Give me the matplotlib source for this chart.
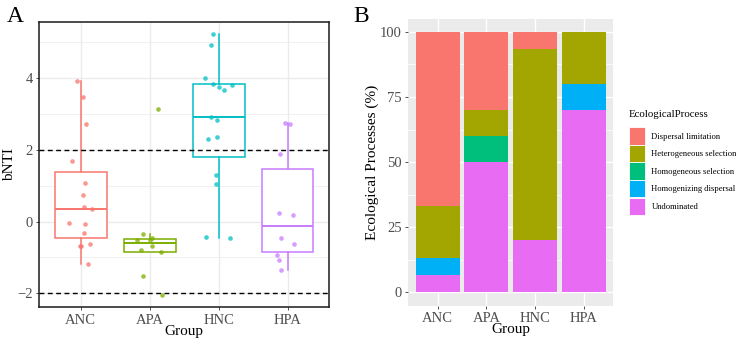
import numpy as np
import matplotlib.pyplot as plt
from matplotlib.patches import Patch

plt.rcParams['font.family'] = ['Liberation Serif', 'DejaVu Serif']

# ---- panel A data: bNTI per group ----
groups = ['ANC', 'APA', 'HNC', 'HPA']
anc_bnti = [3.93, 3.49, 2.73, 1.70, 1.09, 0.73, 0.41, 0.36, -0.05, -0.07, -0.33, -0.67, -0.67, -0.61, -1.17]
apa_bnti = [3.13, -0.35, -0.52, -0.50, -0.47, -0.79, -0.69, -0.85, -1.52, -2.05]
hnc_bnti = [5.25, 4.92, 4.01, 3.85, 3.77, 3.68, 3.82, 2.92, 2.85, 2.31, 2.35, 1.29, 1.04, -0.42, -0.46]
hpa_bnti = [2.75, 2.73, 1.88, 0.25, 0.18, -0.45, -0.63, -0.92, -1.08, -1.34]
# horizontal jitter of each point as drawn (category units)
anc_jit = [-0.06, 0.04, 0.08, -0.12, 0.06, 0.04, 0.05, 0.17, -0.17, 0.06, 0.05, -0.01, 0.01, 0.13, 0.11]
apa_jit = [0.12, -0.10, -0.18, 0.0, 0.03, -0.13, 0.03, 0.16, -0.10, 0.18]
hnc_jit = [-0.08, -0.11, -0.20, -0.08, 0.0, 0.08, 0.19, -0.11, -0.03, -0.16, -0.03, -0.04, -0.04, -0.18, 0.16]
hpa_jit = [-0.04, 0.03, -0.11, -0.12, 0.08, -0.10, 0.09, -0.15, -0.12, -0.09]
box_colors = ['#F8766D', '#7CAE00', '#00BFC4', '#C77CFF']

# ---- panel B data: share of ecological processes (%) ----
processes = ['Dispersal limitation', 'Heterogeneous selection', 'Homogeneous selection',
             'Homogenizing dispersal', 'Undominated']
dispersal_limitation = [66.67, 30, 6.67, 0]
heterogeneous_selection = [20, 10, 73.33, 20]
homogeneous_selection = [0, 10, 0, 0]
homogenizing_dispersal = [6.67, 0, 0, 10]
undominated = [6.67, 50, 20, 70]
proc_colors = ['#F8766D', '#A3A500', '#00BF7D', '#00B0F6', '#E76BF3']

tick_gray = '#4D4D4D'
W, H = 742, 345
fig = plt.figure(figsize=(W / 100, H / 100), dpi=100)

# ================= panel A =================
axA = fig.add_axes([39.3 / W, 1 - 307.3 / H, (329 - 39.3) / W, (307.3 - 21.7) / H])
pos = np.arange(1, 5)
for y in [-1, 1, 3, 5]:
    axA.axhline(y, color='#EBEBEB', lw=0.5, zorder=0)
for y in [-2, 0, 2, 4]:
    axA.axhline(y, color='#EBEBEB', lw=1.0, zorder=0)
for x in pos:
    axA.axvline(x, color='#EBEBEB', lw=1.0, zorder=0)

data = [anc_bnti, apa_bnti, hnc_bnti, hpa_bnti]
jits = [anc_jit, apa_jit, hnc_jit, hpa_jit]
for i, (vals, c) in enumerate(zip(data, box_colors)):
    axA.boxplot([vals], positions=[pos[i]], widths=0.75, whis=1.5, showfliers=False,
                showcaps=False, patch_artist=True,
                boxprops=dict(facecolor='white', edgecolor=c, lw=1.1),
                medianprops=dict(color=c, lw=1.4),
                whiskerprops=dict(color=c, lw=1.1), zorder=2)
for i, (vals, jit, c) in enumerate(zip(data, jits, box_colors)):
    axA.scatter(pos[i] + np.array(jit), vals, s=11, color=c, alpha=0.75, lw=0, zorder=4)

axA.axhline(2, color='black', ls='--', lw=1.0, dashes=(3.5, 2.5), zorder=3)
axA.axhline(-2, color='black', ls='--', lw=1.0, dashes=(3.5, 2.5), zorder=3)

axA.set_xlim(0.4, 4.6)
axA.set_ylim(-2.39, 5.58)
axA.set_xticks(pos)
axA.set_xticklabels(groups)
axA.set_yticks([-2, 0, 2, 4])
axA.set_yticklabels(['\u22122', '0', '2', '4'])
axA.tick_params(colors='#333333', labelcolor=tick_gray, labelsize=10.5, length=2.5, width=0.6, pad=2)
for s in axA.spines.values():
    s.set_color('#1A1A1A')
    s.set_linewidth(1.1)
axA.set_xlabel('Group', fontsize=11, labelpad=-1)
axA.set_ylabel('bNTI', fontsize=11, labelpad=1)
fig.text(7 / W, 1 - 16 / H, 'A', fontsize=17, va='center', ha='left')

# ================= panel B =================
axB = fig.add_axes([408.3 / W, 1 - 305.5 / H, (613.3 - 408.3) / W, (305.5 - 18.8) / H])
axB.set_facecolor('#EBEBEB')
for y in [12.5, 37.5, 62.5, 87.5]:
    axB.axhline(y, color='white', lw=0.5, zorder=0)
for y in [0, 25, 50, 75, 100]:
    axB.axhline(y, color='white', lw=1.0, zorder=0)
for x in pos:
    axB.axvline(x, color='white', lw=1.0, zorder=0)

stack_order = [
    (undominated, proc_colors[4]),
    (homogenizing_dispersal, proc_colors[3]),
    (homogeneous_selection, proc_colors[2]),
    (heterogeneous_selection, proc_colors[1]),
    (dispersal_limitation, proc_colors[0]),
]
bottom = np.zeros(4)
for vals, c in stack_order:
    axB.bar(pos, vals, bottom=bottom, width=0.9, color=c, lw=0, zorder=2)
    bottom += np.array(vals)

axB.set_xlim(0.4, 4.6)
axB.set_ylim(-5, 105)
axB.set_xticks(pos)
axB.set_xticklabels(groups)
axB.set_yticks([0, 25, 50, 75, 100])
for s in axB.spines.values():
    s.set_visible(False)
axB.tick_params(colors='#333333', labelcolor=tick_gray, labelsize=10.5, length=2.5, width=0.6, pad=2)
axB.set_xlabel('Group', fontsize=11, labelpad=-1)
axB.set_ylabel('Ecological Processes (%)', fontsize=11, labelpad=1)
fig.text(353 / W, 1 - 16 / H, 'B', fontsize=17, va='center', ha='left')

handles = [Patch(facecolor=c, edgecolor='white', lw=0.6) for c in proc_colors]
leg = fig.legend(handles, processes, loc='upper left', bbox_to_anchor=(629 / W, 1 - 110 / H),
                 frameon=False, fontsize=6.2, title='EcologicalProcess', title_fontsize=7.8,
                 handlelength=1.8, handleheight=2.7, labelspacing=0.04, handletextpad=0.8,
                 borderpad=0, borderaxespad=0)
leg._legend_box.align = 'left'
leg._legend_box.sep = 6

fig.savefig('out.png', dpi=100)
